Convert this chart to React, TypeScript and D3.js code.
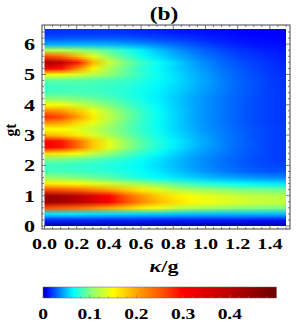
import React, { useMemo } from 'react'
import * as d3 from 'd3'

// κ/g columns and gt rows of the density grid
const kappaCols = [0, 0.1, 0.2, 0.3, 0.4, 0.5, 0.6, 0.7, 0.8, 0.9, 1.0, 1.1, 1.2, 1.3, 1.4, 1.5]
const gtRows = [
  0, 0.2, 0.4, 0.6, 0.8, 1.0, 1.2, 1.4, 1.6, 1.8, 2.0, 2.2, 2.4, 2.6, 2.8, 3.0, 3.2,
  3.4, 3.6, 3.8, 4.0, 4.2, 4.4, 4.6, 4.8, 5.0, 5.2, 5.4, 5.6, 5.8, 6.0, 6.2, 6.4, 6.6,
]

// one row per gt value (bottom to top), one entry per κ/g column
const values: number[][] = [
  [0.002, 0.002, 0.002, 0.002, 0.002, 0.002, 0.002, 0.002, 0.002, 0.002, 0.002, 0.002, 0.002, 0.002, 0.002, 0.002],
  [0.016, 0.016, 0.016, 0.016, 0.015, 0.015, 0.015, 0.014, 0.014, 0.014, 0.013, 0.013, 0.013, 0.012, 0.012, 0.012],
  [0.06, 0.06, 0.06, 0.058, 0.057, 0.056, 0.055, 0.054, 0.053, 0.052, 0.051, 0.05, 0.05, 0.05, 0.05, 0.05],
  [0.26, 0.25, 0.24, 0.22, 0.2, 0.18, 0.16, 0.145, 0.13, 0.12, 0.115, 0.11, 0.105, 0.103, 0.1, 0.1],
  [0.44, 0.43, 0.4, 0.36, 0.31, 0.26, 0.22, 0.19, 0.17, 0.155, 0.145, 0.14, 0.135, 0.13, 0.128, 0.125],
  [0.44, 0.43, 0.4, 0.35, 0.3, 0.25, 0.21, 0.18, 0.16, 0.148, 0.14, 0.133, 0.128, 0.124, 0.122, 0.12],
  [0.26, 0.25, 0.24, 0.22, 0.2, 0.18, 0.16, 0.14, 0.125, 0.115, 0.11, 0.105, 0.1, 0.098, 0.096, 0.095],
  [0.16, 0.155, 0.15, 0.14, 0.13, 0.12, 0.11, 0.1, 0.09, 0.082, 0.075, 0.07, 0.066, 0.063, 0.061, 0.06],
  [0.11, 0.105, 0.1, 0.095, 0.09, 0.08, 0.072, 0.065, 0.06, 0.055, 0.05, 0.046, 0.043, 0.04, 0.038, 0.037],
  [0.085, 0.085, 0.083, 0.08, 0.077, 0.072, 0.066, 0.06, 0.053, 0.046, 0.04, 0.035, 0.031, 0.028, 0.026, 0.025],
  [0.08, 0.08, 0.078, 0.076, 0.073, 0.069, 0.064, 0.057, 0.05, 0.043, 0.037, 0.032, 0.028, 0.025, 0.023, 0.022],
  [0.1, 0.098, 0.094, 0.088, 0.082, 0.075, 0.067, 0.059, 0.051, 0.044, 0.037, 0.032, 0.028, 0.024, 0.022, 0.02],
  [0.17, 0.16, 0.145, 0.125, 0.105, 0.09, 0.077, 0.066, 0.056, 0.047, 0.04, 0.034, 0.029, 0.025, 0.022, 0.02],
  [0.31, 0.29, 0.24, 0.18, 0.14, 0.11, 0.089, 0.074, 0.062, 0.052, 0.043, 0.036, 0.03, 0.026, 0.022, 0.02],
  [0.31, 0.29, 0.24, 0.18, 0.14, 0.11, 0.089, 0.075, 0.063, 0.053, 0.044, 0.036, 0.03, 0.026, 0.022, 0.02],
  [0.19, 0.18, 0.16, 0.135, 0.115, 0.097, 0.082, 0.07, 0.059, 0.05, 0.042, 0.035, 0.03, 0.025, 0.022, 0.02],
  [0.15, 0.15, 0.14, 0.125, 0.108, 0.093, 0.079, 0.068, 0.057, 0.048, 0.04, 0.034, 0.029, 0.025, 0.022, 0.02],
  [0.21, 0.2, 0.17, 0.14, 0.115, 0.095, 0.079, 0.067, 0.056, 0.047, 0.039, 0.033, 0.028, 0.024, 0.021, 0.019],
  [0.28, 0.26, 0.21, 0.16, 0.125, 0.1, 0.082, 0.068, 0.057, 0.047, 0.039, 0.033, 0.028, 0.024, 0.021, 0.019],
  [0.22, 0.21, 0.18, 0.145, 0.117, 0.096, 0.08, 0.067, 0.056, 0.047, 0.039, 0.033, 0.028, 0.024, 0.021, 0.019],
  [0.15, 0.145, 0.13, 0.115, 0.1, 0.087, 0.075, 0.064, 0.055, 0.046, 0.039, 0.033, 0.028, 0.024, 0.021, 0.019],
  [0.105, 0.104, 0.1, 0.094, 0.087, 0.079, 0.07, 0.062, 0.054, 0.046, 0.039, 0.033, 0.028, 0.024, 0.021, 0.019],
  [0.085, 0.085, 0.085, 0.083, 0.08, 0.075, 0.069, 0.062, 0.055, 0.048, 0.041, 0.034, 0.029, 0.025, 0.021, 0.019],
  [0.08, 0.082, 0.083, 0.082, 0.08, 0.077, 0.071, 0.064, 0.057, 0.05, 0.042, 0.035, 0.029, 0.025, 0.021, 0.018],
  [0.09, 0.09, 0.089, 0.087, 0.084, 0.08, 0.074, 0.067, 0.059, 0.051, 0.043, 0.035, 0.029, 0.025, 0.021, 0.018],
  [0.15, 0.145, 0.135, 0.12, 0.105, 0.092, 0.079, 0.069, 0.059, 0.05, 0.042, 0.034, 0.028, 0.024, 0.02, 0.017],
  [0.32, 0.29, 0.22, 0.155, 0.115, 0.093, 0.077, 0.066, 0.056, 0.047, 0.039, 0.032, 0.027, 0.023, 0.019, 0.016],
  [0.43, 0.39, 0.29, 0.19, 0.13, 0.1, 0.082, 0.068, 0.057, 0.046, 0.037, 0.03, 0.025, 0.021, 0.018, 0.015],
  [0.26, 0.24, 0.19, 0.14, 0.105, 0.085, 0.069, 0.058, 0.048, 0.04, 0.032, 0.027, 0.022, 0.019, 0.016, 0.014],
  [0.12, 0.12, 0.11, 0.1, 0.088, 0.075, 0.062, 0.051, 0.042, 0.034, 0.028, 0.023, 0.019, 0.016, 0.014, 0.012],
  [0.045, 0.046, 0.047, 0.047, 0.046, 0.044, 0.04, 0.035, 0.03, 0.026, 0.021, 0.017, 0.014, 0.012, 0.011, 0.01],
  [0.025, 0.026, 0.027, 0.027, 0.027, 0.026, 0.024, 0.022, 0.02, 0.018, 0.015, 0.013, 0.011, 0.01, 0.009, 0.008],
  [0.018, 0.018, 0.018, 0.018, 0.018, 0.017, 0.016, 0.015, 0.013, 0.012, 0.011, 0.01, 0.009, 0.008, 0.008, 0.007],
  [0.018, 0.018, 0.018, 0.018, 0.018, 0.017, 0.016, 0.015, 0.013, 0.012, 0.011, 0.01, 0.009, 0.008, 0.008, 0.007],
]

const xTicks = [0, 0.2, 0.4, 0.6, 0.8, 1.0, 1.2, 1.4]
const xTickLabels = ['0.0', '0.2', '0.4', '0.6', '0.8', '1.0', '1.2', '1.4']
const yTicks = [0, 1, 2, 3, 4, 5, 6]
const yTickLabels = ['0', '1', '2', '3', '4', '5', '6']
const barTicks = [0, 0.1, 0.2, 0.3, 0.4]
const barTickLabels = ['0', '0.1', '0.2', '0.3', '0.4']

// jet-like colour map
const colorStops = [0, 0.008, 0.035, 0.065, 0.105, 0.15, 0.2, 0.25, 0.3, 0.4, 0.5]
const colorList = ['#00008c', '#0000ff', '#0080ff', '#00ffff', '#90ff70', '#ffff00', '#ffa500', '#ff5a00', '#ff0000', '#bb0000', '#6a0000']

const W = 300
const H = 328
const FONT = '"Liberation Serif", "DejaVu Serif", serif'
const SX = 1.3 // the reference text is stretched horizontally

function Txt({ x, y, size, anchor = 'middle', rotate = 0, sx = SX, children }: any) {
  return (
    <text
      transform={`translate(${x},${y}) scale(${sx},1) rotate(${rotate})`}
      textAnchor={anchor}
      fontFamily={FONT}
      fontWeight="bold"
      fontSize={size}
      fill="#000"
    >
      {children}
    </text>
  )
}

export default function App() {
  const frame = { left: 42, right: 290, top: 25, bottom: 229 }
  const x = d3.scaleLinear().domain([0, 1.5]).range([44.5, 286])
  const y = d3.scaleLinear().domain([0, 6.5]).range([226, 29])
  const color = d3.scaleLinear<string>().domain(colorStops).range(colorList).interpolate(d3.interpolateRgb).clamp(true)
  const bar = { left: 43, right: 276.5, top: 287, bottom: 298 }
  const bx = d3.scaleLinear().domain([0, 0.5]).range([bar.left, bar.right])

  const imgUrl = useMemo(() => {
    const c = document.createElement('canvas')
    c.width = kappaCols.length
    c.height = gtRows.length
    const ctx = c.getContext('2d')!
    const img = ctx.createImageData(c.width, c.height)
    for (let r = 0; r < gtRows.length; r++) {
      const row = values[gtRows.length - 1 - r]
      for (let k = 0; k < kappaCols.length; k++) {
        const col = d3.rgb(color(row[k]))
        const i = (r * c.width + k) * 4
        img.data[i] = col.r
        img.data[i + 1] = col.g
        img.data[i + 2] = col.b
        img.data[i + 3] = 255
      }
    }
    ctx.putImageData(img, 0, 0)
    return c.toDataURL()
  }, [])

  // pixel centres land on the grid values
  const dk = kappaCols[1] - kappaCols[0]
  const dg = gtRows[1] - gtRows[0]
  const ix0 = x(kappaCols[0] - dk / 2)
  const ix1 = x(kappaCols[kappaCols.length - 1] + dk / 2)
  const iy0 = y(gtRows[gtRows.length - 1] + dg / 2)
  const iy1 = y(gtRows[0] - dg / 2)

  const xMinor = x.ticks(30)
  const yMinor = y.ticks(33)
  const bMinor = bx.ticks(25)
  const tickColor = '#555'

  return (
    <svg width={W} height={H} style={{ position: 'absolute', left: 0, top: 0, background: '#fff' }}>
      <defs>
        <clipPath id="plotClip">
          <rect x={x(0)} y={y(6.5)} width={x(1.5) - x(0)} height={y(0) - y(6.5)} />
        </clipPath>
        <linearGradient id="barGrad" x1="0" x2="1" y1="0" y2="0">
          {colorStops.map((s, i) => (
            <stop key={i} offset={s / 0.5} stopColor={colorList[i]} />
          ))}
        </linearGradient>
      </defs>

      <Txt x={164} y={20} size={18}>(b)</Txt>

      <g clipPath="url(#plotClip)">
        <image href={imgUrl} x={ix0} y={iy0} width={ix1 - ix0} height={iy1 - iy0} preserveAspectRatio="none" />
      </g>

      <rect x={frame.left} y={frame.top} width={frame.right - frame.left} height={frame.bottom - frame.top} fill="none" stroke="#444" strokeWidth={1} />

      {xMinor.map((t, i) => {
        const major = xTicks.some((m) => Math.abs(m - t) < 1e-6)
        const len = major ? 4 : 2
        return (
          <g key={'xm' + i} stroke={tickColor} strokeWidth={0.8}>
            <line x1={x(t)} x2={x(t)} y1={frame.bottom} y2={frame.bottom - len} />
            <line x1={x(t)} x2={x(t)} y1={frame.top} y2={frame.top + len} />
          </g>
        )
      })}
      {yMinor.map((t, i) => {
        const major = yTicks.some((m) => Math.abs(m - t) < 1e-6)
        const len = major ? 4 : 2
        return (
          <g key={'ym' + i} stroke={tickColor} strokeWidth={0.8}>
            <line x1={frame.left} x2={frame.left + len} y1={y(t)} y2={y(t)} />
            <line x1={frame.right} x2={frame.right - len} y1={y(t)} y2={y(t)} />
          </g>
        )
      })}

      {yTicks.map((t, i) => (
        <Txt key={'yl' + i} x={35} y={y(t) + 6} size={17} anchor="end">
          {yTickLabels[i]}
        </Txt>
      ))}
      {xTicks.map((t, i) => (
        <Txt key={'xl' + i} x={x(t)} y={249} size={15.5}>
          {xTickLabels[i]}
        </Txt>
      ))}

      <Txt x={16} y={130} size={15.5} sx={1.1} rotate={-90}>gt</Txt>
      <Txt x={164} y={272} size={17}>
        <tspan fontStyle="italic">κ</tspan>/g
      </Txt>

      <rect x={bar.left} y={bar.top} width={bar.right - bar.left} height={bar.bottom - bar.top} fill="url(#barGrad)" stroke="#666" strokeWidth={0.5} />
      {bMinor.map((t, i) => {
        const major = barTicks.some((m) => Math.abs(m - t) < 1e-6)
        return (
          <line key={'bt' + i} x1={bx(t)} x2={bx(t)} y1={bar.bottom} y2={bar.bottom - (major ? 3 : 1.5)} stroke="#777" strokeWidth={0.6} />
        )
      })}
      {barTicks.map((t, i) => (
        <Txt key={'bl' + i} x={bx(t)} y={319} size={15}>
          {barTickLabels[i]}
        </Txt>
      ))}
    </svg>
  )
}
